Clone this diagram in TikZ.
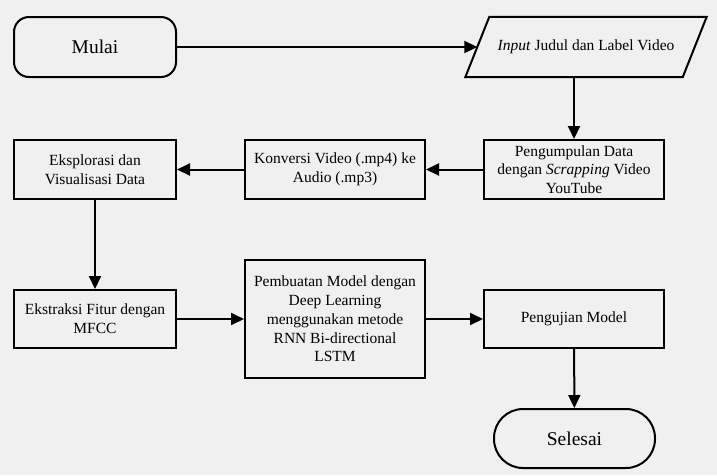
\documentclass[tikz,border=0pt]{standalone}
\usepackage{fontspec}
\setmainfont{Liberation Serif}
\usetikzlibrary{arrows.meta}
\definecolor{bgcol}{HTML}{F0F0F0}
\newcommand{\flowfont}{\fontsize{15.5}{18.8}\selectfont}
\newcommand{\termfont}{\fontsize{19.5}{22}\selectfont}

\begin{document}
\begin{tikzpicture}[x=1pt,y=-1pt,
  box/.style={draw,line width=2pt,align=center,inner sep=0pt,font=\flowfont},
  terminal/.style={box,rounded corners=#1,font=\termfont},
  flow/.style={-{Triangle[length=13pt,width=12pt]},line width=2pt}]
\fill[bgcol] (0,0) rectangle (717,475);
\useasboundingbox (0,0) rectangle (717,475);
% first row
\node[terminal=15pt,minimum width=162pt,minimum height=60pt] (mulai) at (95,47) {Mulai};
\node[align=center,inner sep=0pt,font=\flowfont,minimum width=217pt,minimum height=60pt] (input) at (586,47) {\textit{Input} Judul dan Label Video};
\draw[line width=2pt] ([xshift=12pt]input.north west) -- ([xshift=12pt]input.north east)
  -- ([xshift=-12pt]input.south east) -- ([xshift=-12pt]input.south west) -- cycle;
% second row
\node[box,minimum width=180pt,minimum height=59pt] (peng) at (574,169.5) {Pengumpulan Data\\dengan \textit{Scrapping} Video\\YouTube};
\node[box,minimum width=180pt,minimum height=59pt] (konv) at (335,169.5) {Konversi Video (.mp4) ke\\Audio (.mp3)};
\node[box,minimum width=162pt,minimum height=59pt] (eksp) at (95,169.5) {Eksplorasi dan\\Visualisasi Data};
% third row
\node[box,minimum width=162pt,minimum height=58pt] (ekst) at (95,319) {Ekstraksi Fitur dengan\\MFCC};
\node[box,minimum width=180pt,minimum height=118pt] (model) at (335,319) {Pembuatan Model dengan\\Deep Learning\\menggunakan metode\\RNN Bi-directional\\LSTM};
\node[box,minimum width=180pt,minimum height=58pt] (uji) at (574,319) {Pengujian Model};
\node[terminal=29pt,minimum width=161pt,minimum height=59pt] (selesai) at (574.5,438.5) {Selesai};
% arrows
\draw[flow] (mulai) -- (input);
\draw[flow] (peng.north |- input.south) -- (peng);
\draw[flow] (peng) -- (konv);
\draw[flow] (konv) -- (eksp);
\draw[flow] (eksp) -- (ekst);
\draw[flow] (ekst) -- (model);
\draw[flow] (model) -- (uji);
\draw[flow] (uji) -- (selesai);
\end{tikzpicture}
\end{document}
